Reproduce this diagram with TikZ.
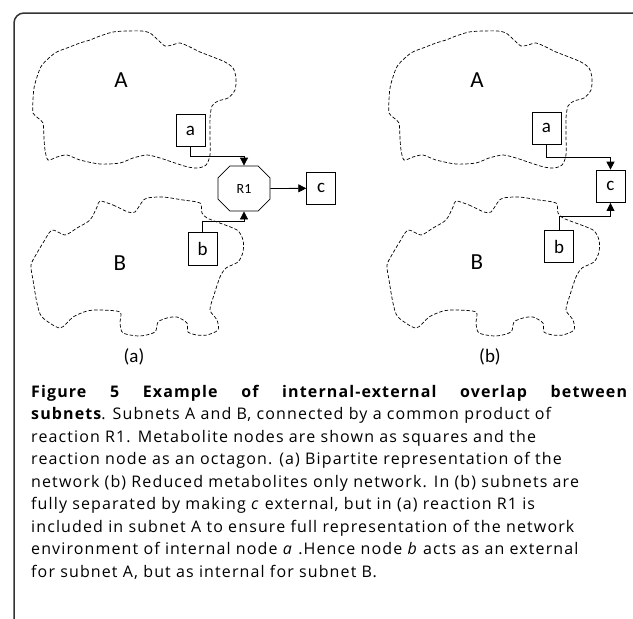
\documentclass[tikz,border=0pt]{standalone}
\usepackage{fontspec}
\setmainfont{Open Sans}[LetterSpace=7]
\newfontfamily\diagfont{Carlito}
\usetikzlibrary{shapes.misc,arrows.meta}
\begin{document}
\begin{tikzpicture}[x=1pt,y=-1pt,
  cloud/.style={dash pattern=on 3.5pt off 2pt, line width=0.7pt, smooth cycle, tension=0.45},
  mbox/.style={draw, line width=0.8pt, rectangle, inner sep=0pt, minimum width=29pt, minimum height=32.5pt, font=\diagfont\fontsize{19}{19}\selectfont},
  octa/.style={draw, line width=0.8pt, chamfered rectangle, chamfered rectangle xsep=12pt, chamfered rectangle ysep=12pt, inner sep=0pt, minimum width=52pt, minimum height=45pt, font=\diagfont\fontsize{14}{14}\selectfont},
  biglab/.style={font=\diagfont\fontsize{23}{23}\selectfont, inner sep=0pt},
  sublab/.style={font=\diagfont\fontsize{19}{19}\selectfont, inner sep=0pt},
  arr/.style={line width=0.8pt, -{Triangle[length=8pt,width=8pt]}},
  capline/.style={anchor=base west, inner sep=0pt, font=\fontsize{16}{16}\selectfont}
]
\useasboundingbox (0,0) rectangle (633,619);
\draw[line width=1.5pt, color=black!80, rounded corners=10pt] (14,660) -- (14,13) -- (645,13);

\foreach \dx in {0,356}{
\begin{scope}[xshift=\dx]
\draw[cloud] plot coordinates {(33,113) (33,100) (34,88) (37,77) (42,65) (55,53) (67,48) (80,43) (90,40) (100,36) (113,32) (127,31) (142,31) (150,33) (158,40) (165,46) (172,45) (180,43) (190,47) (200,52) (213,57) (225,62) (233,68) (236,78) (235,90) (228,98) (218,101) (212,106) (210,118) (210,135) (210,155) (206,165) (198,168) (188,167) (175,163) (160,158) (147,155) (133,158) (120,163) (100,164) (80,160) (67,155) (57,157) (48,160) (45,150) (44,138) (43,123) (38,118)};
\draw[cloud] plot coordinates {(100,201) (113,205) (128,212) (135,212) (142,202) (147,198) (163,197) (183,200) (200,203) (202,213) (207,218) (217,222) (237,230) (243,240) (243,252) (238,262) (226,268) (220,277) (214,295) (210,310) (217,320) (218,330) (207,335) (197,335) (188,332) (187,323) (177,317) (167,318) (158,322) (155,332) (140,336) (123,333) (120,323) (120,312) (100,310) (87,311) (73,317) (60,328) (42,317) (37,303) (33,280) (31,265) (37,253) (43,243) (52,230) (65,235) (77,228) (90,220) (97,207)};
\end{scope}}

\node[biglab] (AL) at (121,80) {A};
\node[biglab] (BL) at (120,263) {B};
\node[biglab] (AR) at (477,80) {A};
\node[biglab] (BR) at (477,262) {B};

% panel (a)
\node[mbox] (a) at (190.5,130.5) {a};
\node[octa] (R1) at (244,188.5) {R1};
\node[mbox] (c) at (321.2,188.3) {c};
\node[mbox] (b) at (202.5,248.7) {b};
\coordinate (ka) at (244,156.7);
\coordinate (kb) at (244,221.7);
\draw[arr] (a.south) |- (ka) -- (R1.north);
\draw[arr] (b.north) |- (kb) -- (R1.south);
\draw[arr] (R1.east) -- (c.west);

% panel (b)
\node[mbox] (a2) at (546.5,128.3) {a};
\node[mbox] (c2) at (610.5,186.3) {c};
\node[mbox] (b2) at (559,246.5) {b};
\coordinate (ka2) at (610.5,157.3);
\coordinate (kb2) at (610.5,216);
\draw[arr] (a2.south) |- (ka2) -- (c2.north);
\draw[arr] (b2.north) |- (kb2) -- (c2.south);

\node[sublab] (la) at (134,357) {(a)};
\node[sublab] (lb) at (490,357) {(b)};

% caption
\node[capline] (k1) at (31,397.3) {\makebox[597pt][s]{\textbf{Figure 5 Example of internal-external overlap between}}};
\node[capline] (k2) at (31,419.8) {\textbf{subnets}. Subnets A and B, connected by a common product of};
\node[capline] (k3) at (31,442.3) {reaction R1. Metabolite nodes are shown as squares and the};
\node[capline] (k4) at (31,464.8) {reaction node as an octagon. (a) Bipartite representation of the};
\node[capline] (k5) at (31,487.3) {network (b) Reduced metabolites only network. In (b) subnets are};
\node[capline] (k6) at (31,509.8) {fully separated by making \textit{c} external, but in (a) reaction R1 is};
\node[capline] (k7) at (31,532.3) {included in subnet A to ensure full representation of the network};
\node[capline] (k8) at (31,554.8) {environment of internal node \textit{a} .Hence node \textit{b} acts as an external};
\node[capline] (k9) at (31,577.3) {for subnet A, but as internal for subnet B.};
\end{tikzpicture}
\end{document}
